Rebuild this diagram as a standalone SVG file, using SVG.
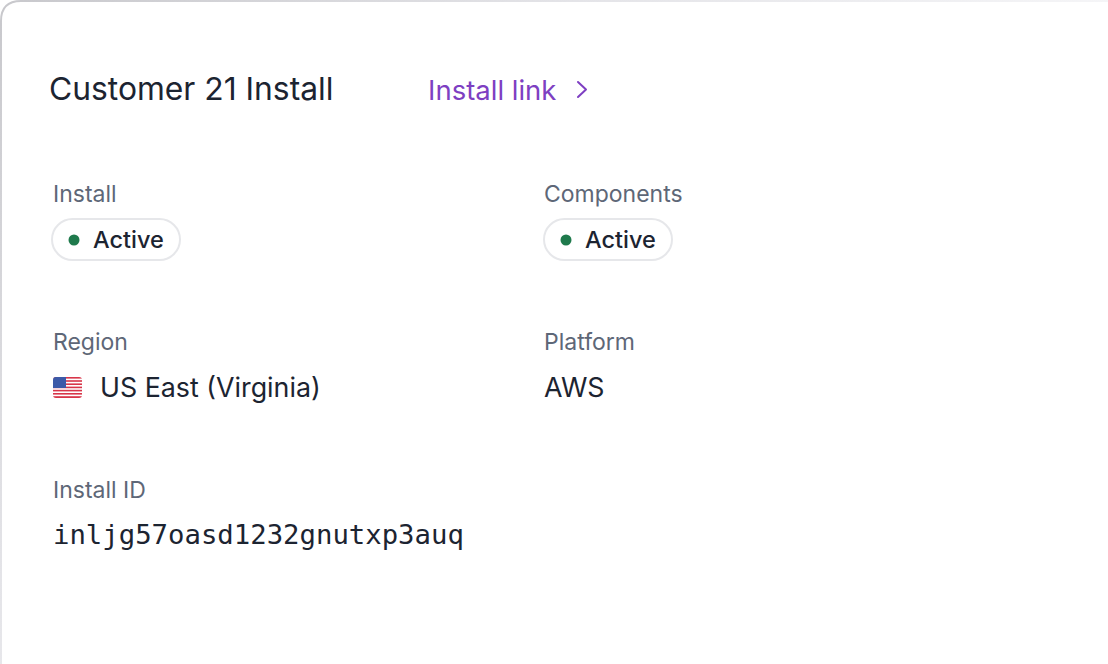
<svg xmlns="http://www.w3.org/2000/svg" width="1108" height="664" viewBox="0 0 1108 664">
<defs>
<radialGradient id="bd" gradientUnits="userSpaceOnUse" cx="0" cy="0" r="1150">
<stop offset="0" stop-color="#c8c8cc"/>
<stop offset="0.5" stop-color="#e4e4e8"/>
<stop offset="1" stop-color="#f6f6f8"/>
</radialGradient>
<clipPath id="fc"><rect x="53" y="377" width="29" height="21" rx="3"/></clipPath>
</defs>
<style>
.lbl{font-family:Inter,"Noto Sans",sans-serif;font-size:23px;fill:#5e6777}
.val{font-family:Inter,"Noto Sans",sans-serif;font-size:26.8px;fill:#1c2431}
.pv{font-family:Inter,"Noto Sans",sans-serif;font-size:23.5px;font-weight:500;fill:#1c2431}
.pill{fill:#ffffff;stroke:#e6e7ea;stroke-width:2}
.dot{fill:#1f7a4c}
</style>
<rect width="1108" height="664" fill="#ffffff"/>
<path d="M1 664 L1 21 Q1 1 21 1 L1108 1" fill="none" stroke="url(#bd)" stroke-width="2"/>
<g id="header">
<text x="49" y="100" font-family="Inter,'Noto Sans',sans-serif" font-size="31.8" fill="#1c2431">Customer 21 Install</text>
<text x="428" y="100" font-family="Inter,'Noto Sans',sans-serif" font-size="27.5" fill="#7e3fc2">Install link</text>
<path d="M578 82 L586 89.5 L578 97" fill="none" stroke="#7e3fc2" stroke-width="2" stroke-linecap="round" stroke-linejoin="round"/>
</g>
<g id="install-status">
<text class="lbl" x="53" y="202">Install</text>
<rect class="pill" x="52" y="219" width="128" height="41" rx="20.5"/>
<circle class="dot" cx="74" cy="240" r="5.5"/>
<text class="pv" x="93" y="248">Active</text>
</g>
<g id="components-status">
<text class="lbl" x="544" y="202">Components</text>
<rect class="pill" x="544" y="219" width="128" height="41" rx="20.5"/>
<circle class="dot" cx="566" cy="240" r="5.5"/>
<text class="pv" x="585" y="248">Active</text>
</g>
<g id="region">
<text class="lbl" x="53" y="350">Region</text>
<g clip-path="url(#fc)">
<rect x="53" y="377" width="29" height="21" fill="#ffffff"/>
<rect x="53" y="377" width="29" height="1.6" fill="#d8364a"/>
<rect x="53" y="380.2" width="29" height="1.6" fill="#d8364a"/>
<rect x="53" y="383.4" width="29" height="1.6" fill="#d8364a"/>
<rect x="53" y="386.6" width="29" height="1.6" fill="#d8364a"/>
<rect x="53" y="389.8" width="29" height="1.6" fill="#d8364a"/>
<rect x="53" y="393" width="29" height="1.6" fill="#d8364a"/>
<rect x="53" y="396.2" width="29" height="1.8" fill="#d8364a"/>
<rect x="53" y="377" width="13" height="11" fill="#3c5aa8"/>
</g>
<text class="val" x="100" y="397">US East (Virginia)</text>
</g>
<g id="platform">
<text class="lbl" x="544" y="350">Platform</text>
<text class="val" x="544" y="397">AWS</text>
</g>
<g id="install-id">
<text class="lbl" x="53" y="498">Install ID</text>
<text x="53" y="544" font-family="'DejaVu Sans Mono','Liberation Mono',monospace" font-size="27.3" fill="#1c2431">inljg57oasd1232gnutxp3auq</text>
</g>
</svg>
